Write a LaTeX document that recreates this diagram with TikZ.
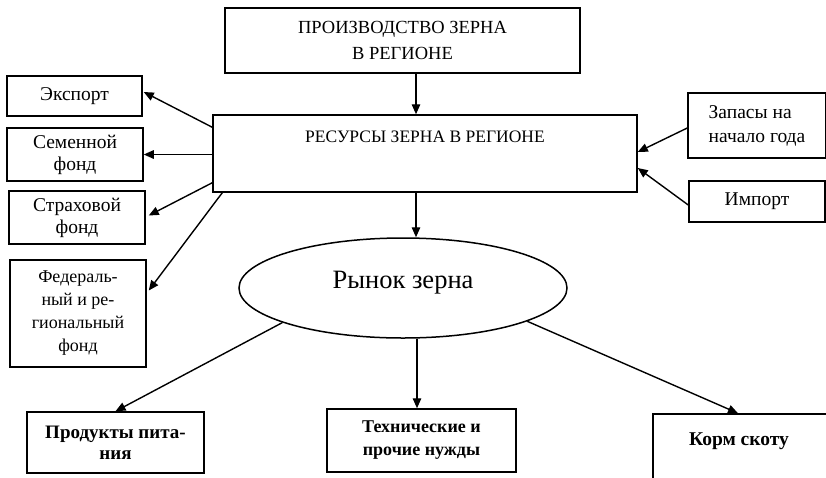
\documentclass[tikz,border=0pt]{standalone}
\usepackage{fontspec}
\setmainfont{Liberation Serif}
\usetikzlibrary{arrows.meta,calc,shapes.geometric}
\begin{document}
\begin{tikzpicture}[x=1pt,y=-1pt,
  box/.style={draw,line width=1.5pt,inner sep=0pt,align=center},
  arr/.style={-{Triangle[length=10pt,width=8.5pt]},line width=1.4pt},
  lbl/.style={font=\fontsize{19.5}{22}\selectfont},
  bl/.style={font=\fontsize{19}{21}\selectfont\bfseries}]
\useasboundingbox (0,0) rectangle (826,477);

\node[box,minimum width=355pt,minimum height=65pt,font=\fontsize{18.5}{26}\selectfont] (top) at (402.5,40.5) {ПРОИЗВОДСТВО ЗЕРНА\\В РЕГИОНЕ};
\node[box,minimum width=424pt,minimum height=77pt,
  label={[anchor=north,inner sep=0pt,yshift=-16.5pt,font=\fontsize{17.5}{20}\selectfont]north:РЕСУРСЫ ЗЕРНА В РЕГИОНЕ}] (res) at (425,153.5) {};
\node[draw,ellipse,line width=1.5pt,minimum width=328pt,minimum height=100pt,inner sep=0pt,
  label={[anchor=base,inner sep=0pt,yshift=5pt,font=\fontsize{26.5}{28}\selectfont]center:Рынок зерна}] (mkt) at (403,288) {};

\node[box,lbl,minimum width=135pt,minimum height=40pt] (exp) at (74.5,96) {Экспорт};
\node[box,lbl,minimum width=136pt,minimum height=53pt] (sem) at (75,154.5) {Семенной\\фонд};
\node[box,lbl,minimum width=136pt,minimum height=53pt] (str) at (77,217.5) {Страховой\\фонд};
\node[box,font=\fontsize{18}{23}\selectfont,minimum width=136pt,minimum height=107pt] (fed) at (78,313.5) {Федераль-\\ный и ре-\\гиональный\\фонд};

\node[box,font=\fontsize{19.5}{24}\selectfont,align=left,minimum width=138pt,minimum height=65pt] (zap) at (757,125.5) {Запасы на\\начало года};
\node[box,lbl,minimum width=136pt,minimum height=41pt] (imp) at (757,201.5) {Импорт};

\node[box,bl,minimum width=177pt,minimum height=61pt] (prod) at (115.5,442.5) {Продукты пита-\\ния};
\node[box,font=\fontsize{18}{23}\selectfont\bfseries,minimum width=189pt,minimum height=63pt] (tech) at (421.5,440.5) {Технические и\\прочие нужды};
\node[box,minimum width=177pt,minimum height=81pt,
  label={[anchor=north,inner sep=0pt,yshift=-19pt,xshift=-2.5pt,font=\fontsize{19.5}{21}\selectfont\bfseries]north:Корм скоту}] (korm) at (741.5,454.5) {};

\draw[arr] ($(top.south)+(13.5,0)$) -- ($(res.north)+(-9,0)$);
\draw[arr] ($(res.north west)+(0,13)$) -- ($(exp.east)+(1,-4)$);
\draw[arr] (res.west |- sem.east) -- (sem.east);
\draw[arr] ($(res.south west)+(0,-10)$) -- ($(str.east)+(3,-2)$);
\draw[arr] ($(res.south west)+(10,0)$) -- ($(fed.east)+(2,-23)$);
\draw[arr] ($(zap.west)+(0,2.5)$) -- ($(res.east)+(0,-1.5)$);
\draw[arr] ($(imp.west)+(0,3.5)$) -- ($(res.east)+(0,14.5)$);
\draw[arr] ($(res.south)+(-9,0)$) -- ($(mkt.north)+(13,0)$);
\draw[arr] (mkt.196) -- (prod.north);
\coordinate (tx) at ($(tech.north)+(-4.5,0)$);
\draw[arr] (mkt.south -| tx) -- (tx);
\draw[arr] (mkt.345) -- ($(korm.north)+(-3.5,0)$);
\end{tikzpicture}
\end{document}
